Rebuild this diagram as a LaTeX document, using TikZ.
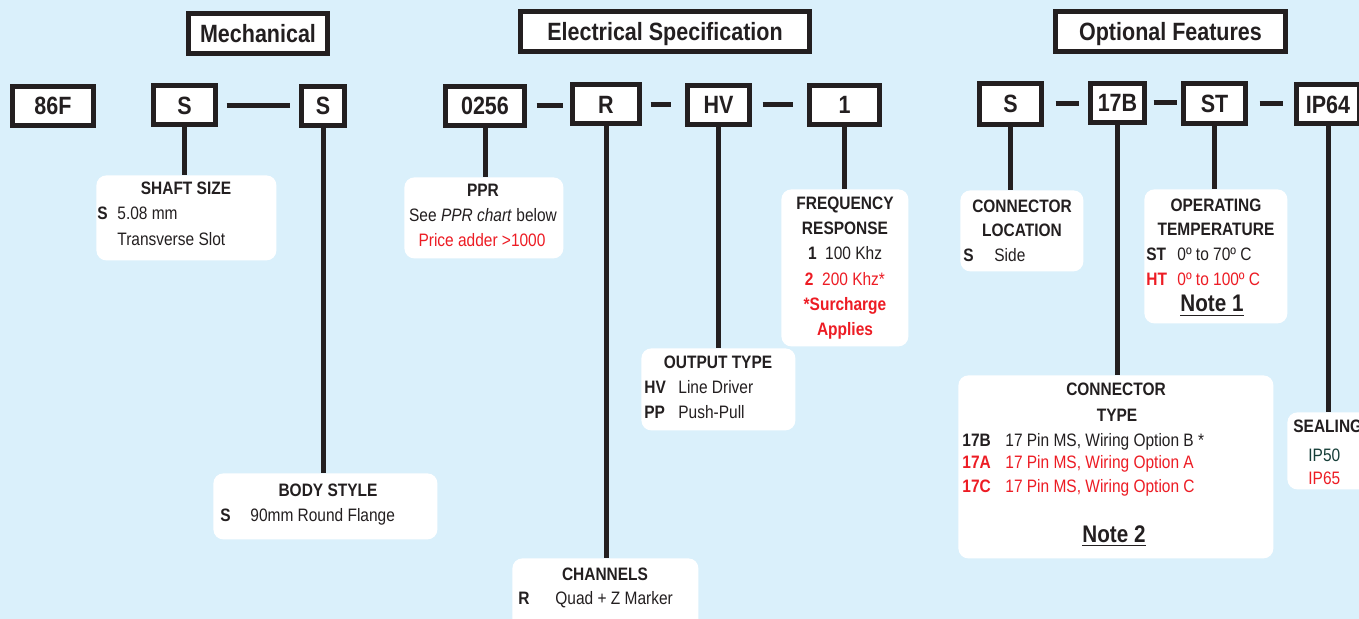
\documentclass[tikz,border=0pt]{standalone}
\usepackage{fontspec}
\setmainfont{Liberation Sans}[FakeStretch=0.86]
\usepackage{xcolor}
\usepackage{tikz}
\usetikzlibrary{calc}

\definecolor{bgblue}{RGB}{218,240,251}
\definecolor{ink}{RGB}{35,31,32}
\definecolor{hot}{RGB}{237,28,36}
\definecolor{teal}{RGB}{22,62,56}

\begin{document}
\begin{tikzpicture}[
  x=0.5pt, y=-0.5pt,
  every node/.style = {text=ink},
  codebox/.style    = {draw=ink, line width=2.5pt, fill=white, inner sep=0pt,
                       text height=9pt, text depth=0pt,
                       minimum height=19.5pt, font=\fontsize{12.5}{14}\selectfont\bfseries},
  titlebox/.style   = {codebox, minimum height=20pt},
  infobox/.style    = {fill=white, rounded corners=5pt, inner sep=0pt, anchor=north west},
  link/.style       = {draw=ink, line width=2.5pt},
  head/.style       = {font=\fontsize{9}{11}\selectfont\bfseries, anchor=base, inner sep=0pt},
  txt/.style        = {font=\fontsize{9}{11}\selectfont, anchor=base west, inner sep=0pt},
  key/.style        = {txt, font=\fontsize{9}{11}\selectfont\bfseries},
  note/.style       = {head, font=\fontsize{12}{14}\selectfont\bfseries},
]

%% ── Canvas ───────────────────────────────────────────────────────────────
\useasboundingbox (0,0) rectangle (1359,619);
\clip (0,0) rectangle (1359,619);
\fill[bgblue] (0,0) rectangle (1359,619);

%% ── Group titles ─────────────────────────────────────────────────────────
\node[titlebox, minimum width=69.5pt]  (mech) at (258,33.5)    {Mechanical};
\node[titlebox, minimum width=144.5pt] (elec) at (665,31.5)    {Electrical Specification};
\node[titlebox, minimum width=115pt]   (opt)  at (1170.5,31.5) {Optional Features};

%% ── Part number boxes ────────────────────────────────────────────────────
\node[codebox, minimum width=40.5pt] (model) at (53,106)      {86F};
\node[codebox, minimum width=31pt]   (s1)    at (184.5,105.5) {S};
\node[codebox, minimum width=21.5pt] (s2)    at (323,106)     {S};
\node[codebox, minimum width=39.5pt] (ppr)   at (485,106)     {0256};
\node[codebox, minimum width=33.5pt] (r)     at (606,104.5)   {R};
\node[codebox, minimum width=31pt]   (hv)    at (718.5,105)   {HV};
\node[codebox, minimum width=35pt]   (one)   at (844.5,105)   {1};
\node[codebox, minimum width=31pt, minimum height=20.5pt] (s3) at (1010.5,104) {S};
\node[codebox, minimum width=27pt, minimum height=19.5pt] (b17) at (1117.5,103) {17B};
\node[codebox, minimum width=31pt, minimum height=20pt]   (st)  at (1214.5,103.5) {ST};
\node[codebox, minimum width=31.5pt] (ip64)  at (1328,104.5)  {IP64};

% dashes between boxes
\foreach \a/\b/\l/\r in {s1/s2/4.25/4.75, ppr/r/4.75/3.75, r/hv/4.25/7.25,
                         hv/one/5.25/7.25, s3/b17/5.75/4.75, b17/st/3.25/2.25,
                         st/ip64/5.75/5.75}
  \draw[link, shorten <=\l pt, shorten >=\r pt] (\a.east) -- (\a.east -| \b.west);

%% ── Description boxes ────────────────────────────────────────────────────
\node[infobox, minimum width=90pt,   minimum height=42.5pt] (shaft)    at (96,175)   {};
\node[infobox, minimum width=112pt,  minimum height=33pt]   (body)     at (213,473)  {};
\node[infobox, minimum width=79.5pt, minimum height=40.5pt] (pprinfo)  at (404,177)  {};
\node[infobox, minimum width=93pt,   minimum height=40pt]   (chan)     at (512,558)  {};
\node[infobox, minimum width=77pt,   minimum height=41pt]   (output)   at (641,348)  {};
\node[infobox, minimum width=63.5pt, minimum height=78.5pt] (freq)     at (781,189)  {};
\node[infobox, minimum width=61.5pt, minimum height=40.5pt] (connloc)  at (960,190)  {};
\node[infobox, minimum width=71.5pt, minimum height=67pt]   (optemp)   at (1144,189) {};
\node[infobox, minimum width=157.5pt,minimum height=91.5pt] (conntype) at (958,375)  {};
\node[infobox, minimum width=50pt,   minimum height=38.5pt] (sealing)  at (1287,412) {};

% drop lines
\foreach \a/\b in {s1/shaft, s2/body, ppr/pprinfo, r/chan, hv/output, one/freq,
                   s3/connloc, b17/conntype, st/optemp, ip64/sealing}
  \draw[link] (\a.south) -- (\a.south |- \b.north);

%% ── Texts: mechanical ────────────────────────────────────────────────────
\node[head] (shaft-h) at (186,195) {SHAFT SIZE};
\node[key]  (shaft-k) at (97,220)  {S};
\node[txt]  (shaft-a) at (117,220) {5.08 mm};
\node[txt]  (shaft-b) at (117,246) {Transverse Slot};

\node[head] (body-h) at (328,497) {BODY STYLE};
\node[key]  (body-k) at (220,522) {S};
\node[txt]  (body-a) at (250,522) {90mm Round Flange};

%% ── Texts: electrical ────────────────────────────────────────────────────
\node[head] (ppr-h) at (483,197) {PPR};
\node[head, font=\fontsize{9}{11}\selectfont] (ppr-a) at (483,222) {See \textit{PPR chart} below};
\node[head, font=\fontsize{9}{11}\selectfont, text=hot] (ppr-b) at (482,247) {Price adder >1000};

\node[head] (chan-h) at (605,580) {CHANNELS};
\node[key]  (chan-k) at (518,604) {R};
\node[txt]  (chan-a) at (555,604) {Quad + Z Marker};

\node[head] (output-h)  at (718,369) {OUTPUT TYPE};
\node[key]  (output-k1) at (644,394) {HV};
\node[txt]  (output-a)  at (678,394) {Line Driver};
\node[key]  (output-k2) at (644,419) {PP};
\node[txt]  (output-b)  at (678,419) {Push-Pull};

\node[head] (freq-h1) at (845,210) {FREQUENCY};
\node[head] (freq-h2) at (845,235) {RESPONSE};
\node[head, font=\fontsize{9}{11}\selectfont] (freq-a) at (845,260) {\textbf{1}\ \ 100 Khz};
\node[head, font=\fontsize{9}{11}\selectfont, text=hot] (freq-b) at (845,286) {\textbf{2}\ \ 200 Khz*};
\node[head, text=hot] (freq-c) at (845,311) {*Surcharge};
\node[head, text=hot] (freq-d) at (845,336) {Applies};

%% ── Texts: optional ──────────────────────────────────────────────────────
\node[head] (connloc-h1) at (1022,213) {CONNECTOR};
\node[head] (connloc-h2) at (1022,237) {LOCATION};
\node[key]  (connloc-k)  at (963,262)  {S};
\node[txt]  (connloc-a)  at (994,262)  {Side};

\node[head] (optemp-h1) at (1216,212) {OPERATING};
\node[head] (optemp-h2) at (1216,236) {TEMPERATURE};
\node[key]  (optemp-k1) at (1146,261) {ST};
\node[txt]  (optemp-a)  at (1177,261) {0º to 70º C};
\node[key, text=hot] (optemp-k2) at (1146,286) {HT};
\node[txt, text=hot] (optemp-b)  at (1177,286) {0º to 100º C};
\node[note] (optemp-n)  at (1212,312) {\underline{Note 1}};

\node[head] (conntype-h1) at (1116,396) {CONNECTOR};
\node[head] (conntype-h2) at (1117,422) {TYPE};
\node[key]  (conntype-k1) at (962,447)  {17B};
\node[txt]  (conntype-a)  at (1005,447) {17 Pin MS, Wiring Option B *};
\node[key, text=hot] (conntype-k2) at (962,469)  {17A};
\node[txt, text=hot] (conntype-b)  at (1005,469) {17 Pin MS, Wiring Option A};
\node[key, text=hot] (conntype-k3) at (962,493)  {17C};
\node[txt, text=hot] (conntype-c)  at (1005,493) {17 Pin MS, Wiring Option C};
\node[note] (conntype-n) at (1114,542) {\underline{Note 2}};

\node[key]            (sealing-h) at (1293,433) {SEALING};
\node[txt, text=teal] (sealing-a) at (1308,462) {IP50};
\node[txt, text=hot]  (sealing-b) at (1308,485) {IP65};

\end{tikzpicture}
\end{document}
